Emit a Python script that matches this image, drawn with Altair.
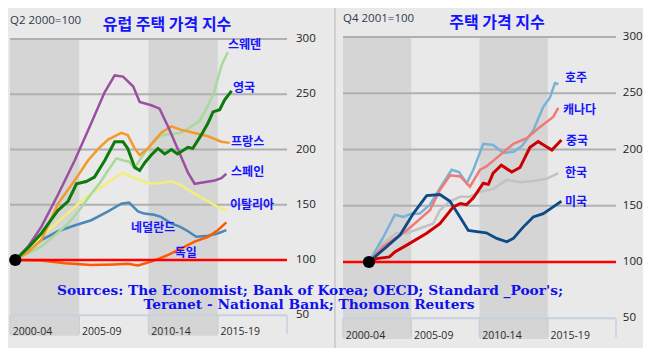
import altair as alt
import pandas as pd

# ---------------- data ----------------
# Left panel: European house price index, Q2 2000 = 100
sweden_x = [2000.38, 2001.3, 2002.26, 2003.2, 2004.19, 2005.0, 2005.87, 2006.5, 2007.08, 2007.68, 2008.2, 2008.6, 2009.0, 2009.5, 2010.2, 2010.9, 2011.6, 2012.3, 2013.0, 2013.7, 2014.3, 2014.7, 2015.3, 2015.72]
sweden_y = [100, 106, 112, 122, 133, 145, 160, 170, 181, 192, 190, 189, 183, 193, 205, 213, 214, 215, 220, 226, 240, 251, 277, 288]
uk_x = [2000.38, 2001.3, 2002.26, 2003.0, 2003.47, 2004.19, 2004.8, 2005.5, 2006.1, 2006.84, 2007.56, 2008.16, 2008.5, 2009.0, 2009.36, 2009.73, 2010.2, 2010.68, 2011.17, 2011.65, 2012.1, 2012.85, 2013.2, 2013.8, 2014.3, 2014.66, 2015.14, 2015.5, 2016.0]
uk_y = [100, 111, 124, 137, 145, 153, 169, 171, 175, 190, 207, 207, 201, 184, 181, 188, 195, 201, 196, 200, 196, 202, 201, 213, 224, 234, 236, 245, 253]
france_x = [2000.38, 2001.3, 2002.26, 2003.0, 2003.47, 2004.67, 2005.63, 2006.4, 2007.08, 2008.04, 2008.5, 2009.0, 2009.36, 2009.96, 2010.9, 2011.65, 2012.3, 2013.33, 2014.3, 2015.26, 2015.86]
france_y = [100, 107, 118, 138, 151, 172, 190, 201, 209, 215, 213, 201, 195, 201, 215, 221, 218, 215, 212, 207, 206]
spain_x = [2000.38, 2001.3, 2002.26, 2003.5, 2004.67, 2005.8, 2006.84, 2007.56, 2008.16, 2008.9, 2009.36, 2010.2, 2010.8, 2011.4, 2012.13, 2012.85, 2013.33, 2013.8, 2014.78, 2015.26, 2015.62]
spain_y = [100, 112, 130, 160, 190, 222, 252, 267, 266, 257, 243, 240, 237, 221, 200, 179, 169, 170, 172, 174, 178]
italy_x = [2000.38, 2001.3, 2002.26, 2003.5, 2004.67, 2005.6, 2006.6, 2007.5, 2008.16, 2009.0, 2010.2, 2011.0, 2011.65, 2012.3, 2013.33, 2014.3, 2015.0, 2015.65]
italy_y = [100, 110, 121, 135, 148, 158, 166, 174, 179, 174, 169, 170, 171, 168, 160, 153, 148, 145]
nether_x = [2000.38, 2001.3, 2002.26, 2003.47, 2004.6, 2005.87, 2007.08, 2008.04, 2008.6, 2009.24, 2009.7, 2010.4, 2010.9, 2011.65, 2012.3, 2012.85, 2013.45, 2014.3, 2015.0, 2015.62]
nether_y = [100, 110, 118, 126, 131, 136, 144, 151, 152, 144, 142, 141, 139, 133, 130, 126, 121, 122, 124, 127]
germany_x = [2000.38, 2002.26, 2004.0, 2005.87, 2007.5, 2008.5, 2009.24, 2010.2, 2011.4, 2012.37, 2013.33, 2014.3, 2015.0, 2015.62]
germany_y = [100, 99.5, 97, 95.5, 96, 96.5, 95, 98.5, 104.5, 110.5, 116.6, 121, 127, 134]

# Right panel: house price index, Q4 2001 = 100
aus_x = [2001.9, 2002.95, 2003.8, 2004.4, 2005.03, 2005.6, 2006.37, 2007.23, 2007.96, 2008.5, 2009.06, 2009.55, 2010.28, 2011.0, 2011.74, 2012.5, 2013.1, 2013.94, 2014.67, 2015.16, 2015.53, 2015.78]
aus_y = [100, 122, 142, 140, 143, 143, 151, 168, 182, 180, 170, 182, 205, 204, 197, 198, 203, 217, 238, 246, 259, 258]
can_x = [2001.9, 2002.95, 2004.67, 2006.37, 2007.1, 2007.84, 2008.6, 2009.3, 2010.04, 2010.5, 2011.5, 2012.48, 2013.46, 2014.43, 2015.4, 2015.77]
can_y = [100, 114, 128, 146, 164, 177, 176, 167, 182, 185, 195, 205, 210, 220, 229, 237]
china_x = [2001.9, 2002.47, 2003.4, 2003.8, 2004.67, 2006.13, 2007.1, 2008.08, 2008.6, 2009.05, 2009.55, 2010.28, 2010.65, 2011.0, 2011.6, 2012.36, 2012.97, 2013.7, 2014.3, 2014.7, 2015.3, 2016.0]
china_y = [100, 103, 104.5, 109, 115, 125.5, 134, 149, 152, 151, 157, 170, 169, 179, 186, 180, 184, 202, 207, 204, 199.5, 208.5]
korea_x = [2001.9, 2002.95, 2003.9, 2004.67, 2005.64, 2006.6, 2007.1, 2007.84, 2008.57, 2009.3, 2010.04, 2011.0, 2012.0, 2012.97, 2013.94, 2014.92, 2015.77]
korea_y = [100, 117, 125.5, 125.5, 130, 134, 146, 154, 158, 158, 162.5, 165, 173, 171, 172, 174, 179]
us_x = [2001.9, 2002.95, 2004.18, 2005.15, 2006.13, 2007.1, 2007.84, 2008.57, 2009.18, 2009.8, 2010.5, 2011.26, 2012.0, 2012.48, 2013.2, 2013.94, 2014.67, 2015.4, 2016.0]
us_y = [100, 111, 124, 143, 159, 160, 154, 140, 128, 127, 126, 121, 118, 121, 131, 140, 143, 149, 154]

# series labels and their anchor points
left_labels = ["스웨덴", "영국", "프랑스", "스페인", "이탈리아", "네덜란드", "독일"]
left_label_x = [2015.74, 2016.1, 2015.96, 2015.96, 2015.88, 2008.74, 2011.9]
left_label_y = [294.6, 255.6, 206.8, 179.6, 149.8, 129, 106.3]
right_labels = ["호주", "캐나다", "중국", "한국", "미국"]
right_label_x = [2016.26, 2016.12, 2016.34, 2016.26, 2016.26]
right_label_y = [263.6, 235, 207.6, 179, 153.3]

y_ticks = [300, 250, 200, 150, 100, 50]
period_labels = ["2000-04", "2005-09", "2010-14", "2015-19"]
period_starts = [2000, 2005, 2010, 2015]
base_left = [2000.38]
base_right = [2001.9]

# ---------------- styling ----------------
BG = "#e9e9e9"
BAND = "#d5d5d5"
GRID = "#b0b0b0"
AXIS = "#c7d1dc"
BLUE = "#1414ff"
KFONT = "Noto Sans CJK KR"
NFONT = "Open Sans"


def scales(side):
    if side == "L":
        xs = alt.Scale(domain=[2000, 2020], range=[2, 279], nice=False, zero=False)
        ys = alt.Scale(domain=[50, 300], range=[307.25, 31], nice=False, zero=False)
    else:
        xs = alt.Scale(domain=[2000, 2020], range=[335, 608], nice=False, zero=False)
        ys = alt.Scale(domain=[50, 300], range=[310.25, 29], nice=False, zero=False)
    return xs, ys


def panel(side, series, labels, lab_x, lab_y, ytick_x, base_x):
    xs, ys = scales(side)
    X = lambda f="x": alt.X(f"{f}:Q", scale=xs, axis=None)
    Y = lambda f="y": alt.Y(f"{f}:Q", scale=ys, axis=None)
    layers = []
    bands = pd.DataFrame({"x": [2000, 2010], "x2": [2005, 2015], "y": [300, 300], "y2": [31.5, 31.5]})
    layers.append(alt.Chart(bands).mark_rect(color=BAND).encode(
        x=X(), x2="x2:Q", y=Y(), y2="y2:Q"))
    grid = pd.DataFrame({"x": [2000] * 4, "x2": [2020] * 4, "y": [300, 250, 200, 150]})
    layers.append(alt.Chart(grid).mark_rule(color=GRID, strokeWidth=2).encode(
        x=X(), x2="x2:Q", y=Y()))
    axl = pd.DataFrame({"x": [2000], "x2": [2020], "y": [50]})
    layers.append(alt.Chart(axl).mark_rule(color=AXIS, strokeWidth=2).encode(
        x=X(), x2="x2:Q", y=Y()))
    ticks = pd.DataFrame({"x": [2000, 2005, 2010, 2015, 2020], "y": [50] * 5, "y2": [33] * 5})
    layers.append(alt.Chart(ticks).mark_rule(color=AXIS, strokeWidth=1.5).encode(
        x=X(), y=Y(), y2="y2:Q"))
    plab = pd.DataFrame({"x": [p + 0.2 for p in period_starts], "y": [34.5] * 4, "t": period_labels})
    layers.append(alt.Chart(plab).mark_text(align="left", baseline="middle", font=NFONT,
                                            fontSize=10.5, color="#2b2b2b").encode(
        x=X(), y=Y(), text="t:N"))
    ylab = pd.DataFrame({"x": [ytick_x] * len(y_ticks), "y": y_ticks, "t": [str(v) for v in y_ticks]})
    layers.append(alt.Chart(ylab).mark_text(align="left", baseline="middle", font=NFONT,
                                            fontSize=11.5, color="#222222").encode(
        x=X(), y=Y(), text="t:N"))
    for xv, yv, col, w in series:
        df = pd.DataFrame({"x": xv, "y": yv})
        layers.append(alt.Chart(df).mark_line(color=col, strokeWidth=w, interpolate="linear").encode(
            x=X(), y=Y()))
    red = pd.DataFrame({"x": [2000], "x2": [2020], "y": [100]})
    layers.append(alt.Chart(red).mark_rule(color="#ff0000", strokeWidth=2.5).encode(
        x=X(), x2="x2:Q", y=Y()))
    dot = pd.DataFrame({"x": base_x, "y": [100]})
    layers.append(alt.Chart(dot).mark_point(filled=True, color="black", size=150, opacity=1).encode(
        x=X(), y=Y()))
    lab = pd.DataFrame({"x": lab_x, "y": lab_y, "t": labels})
    layers.append(alt.Chart(lab).mark_text(align="left", baseline="middle", font=KFONT,
                                           fontSize=12, fontWeight="bold", color=BLUE).encode(
        x=X(), y=Y(), text="t:N"))
    return layers


left_series = [
    (nether_x, nether_y, "#4a88b8", 2.5),
    (italy_x, italy_y, "#f3ee7c", 2.5),
    (sweden_x, sweden_y, "#a9d99b", 2.5),
    (france_x, france_y, "#f59a2a", 2.5),
    (spain_x, spain_y, "#9b4fa2", 2.5),
    (uk_x, uk_y, "#0c7a0c", 3),
    (germany_x, germany_y, "#ff5a00", 2.5),
]
right_series = [
    (korea_x, korea_y, "#c2c2c2", 2.5),
    (aus_x, aus_y, "#78b2d8", 2.5),
    (can_x, can_y, "#f07a78", 2.5),
    (us_x, us_y, "#0d4a8a", 2.8),
    (china_x, china_y, "#cc0000", 3),
]

layers = []
layers += panel("L", left_series, left_labels, left_label_x, left_label_y, 2020.65, base_left)
layers += panel("R", right_series, right_labels, right_label_x, right_label_y, 2020.5, base_right)

# decorations: separator and titles
sep = alt.Chart(pd.DataFrame({"a": [0]})).mark_rule(color="#cfcfcf", strokeWidth=2).encode(
    x=alt.value(327), y=alt.value(-8), y2=alt.value(342))
titles_df = pd.DataFrame({"t": ["유럽 주택 가격 지수", "주택 가격 지수"], "px": [159, 489], "py": [17, 15]})
titles = alt.Chart(titles_df).mark_text(align="center", baseline="middle", font=KFONT, fontSize=16,
                                        fontWeight="bold", color=BLUE).encode(
    x=alt.X("px:Q", scale=None, axis=None), y=alt.Y("py:Q", scale=None, axis=None), text="t:N")
sub_df = pd.DataFrame({"t": ["Q2 2000=100", "Q4 2001=100"], "px": [2, 335], "py": [13, 11]})
subs = alt.Chart(sub_df).mark_text(align="left", baseline="middle", font=NFONT, fontSize=11.5,
                                   color="#2e3a4a").encode(
    x=alt.X("px:Q", scale=None, axis=None), y=alt.Y("py:Q", scale=None, axis=None), text="t:N")
src_df = pd.DataFrame({"t": ["Sources: The Economist; Bank of Korea; OECD; Standard _Poor's;",
                             "Teranet - National Bank; Thomson Reuters"],
                       "px": [302, 301], "py": [283, 297]})
src = alt.Chart(src_df).mark_text(align="center", baseline="middle", font="DejaVu Serif", fontSize=13.75,
                                  fontWeight="bold", color="#1010ee").encode(
    x=alt.X("px:Q", scale=None, axis=None), y=alt.Y("py:Q", scale=None, axis=None), text="t:N")

chart = alt.layer(*layers, sep, titles, subs, src).resolve_scale(
    x="independent", y="independent"
).properties(
    width=635, height=340, background=BG, padding=0,
    autosize=alt.AutoSizeParams(type="none")
).configure_view(stroke=None)

chart.save("out.html", embed_options={"renderer": "svg", "actions": False})
